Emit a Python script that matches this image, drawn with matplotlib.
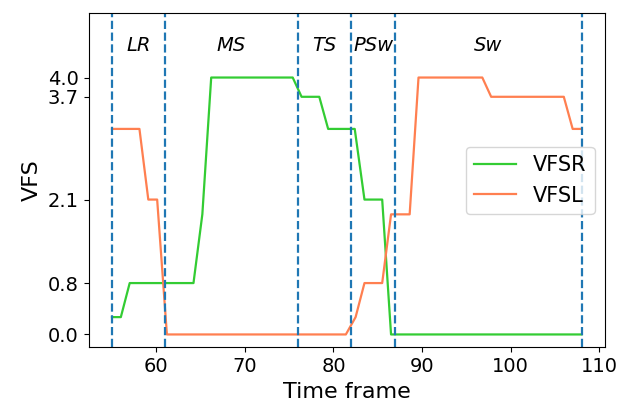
import matplotlib
matplotlib.use("Agg")
import matplotlib.pyplot as plt

# VFSR series
vfsr_x = [55, 56, 57, 64.2, 65.2, 66.2, 75.4, 76.4, 78.4, 79.4, 82.4, 83.5, 85.5, 86.5, 108]
vfsr_y = [0.27, 0.27, 0.8, 0.8, 1.87, 4.0, 4.0, 3.7, 3.7, 3.2, 3.2, 2.1, 2.1, 0.0, 0.0]

# VFSL series
vfsl_x = [55, 58.1, 59.1, 60.1, 61.2, 81.4, 82.5, 83.5, 85.5, 86.5, 88.6, 89.6, 96.8, 97.8, 106.0, 107.0, 108]
vfsl_y = [3.2, 3.2, 2.1, 2.1, 0.0, 0.0, 0.27, 0.8, 0.8, 1.87, 1.87, 4.0, 4.0, 3.7, 3.7, 3.2, 3.2]

# Gait phase boundaries and labels
phase_bounds = [55, 61, 76, 82, 87, 108]
phase_labels = ["LR", "MS", "TS", "PSw", "Sw"]

ytick_vals = [0.0, 0.8, 2.1, 3.7, 4.0]
ytick_labels = ["0.0", "0.8", "2.1", "3.7", "4.0"]

fig = plt.figure(figsize=(6.2, 4.05), dpi=100)
ax = fig.add_axes([88.5 / 620, 1 - 347.3 / 405, (605 - 88.5) / 620, (347.3 - 13.3) / 405])

ax.plot(vfsr_x, vfsr_y, color="#33cc33", lw=1.6, label="VFSR")
ax.plot(vfsl_x, vfsl_y, color="#ff7f50", lw=1.6, label="VFSL")

for b in phase_bounds:
    ax.axvline(b, color="#1f77b4", ls="--", lw=1.6)

for i, lab in enumerate(phase_labels):
    mid = (phase_bounds[i] + phase_bounds[i + 1]) / 2
    ax.text(mid, 4.5, lab, ha="center", va="center", fontsize=14, style="italic")

ax.set_ylim(-0.2, 5.0)
ax.set_yticks(ytick_vals)
ax.set_yticklabels(ytick_labels)
ax.tick_params(labelsize=14)
ax.set_xlabel("Time frame", fontsize=16)
ax.set_ylabel("VFS", fontsize=16)
ax.legend(loc="center right", fontsize=15)

fig.savefig("out.png", dpi=100)
